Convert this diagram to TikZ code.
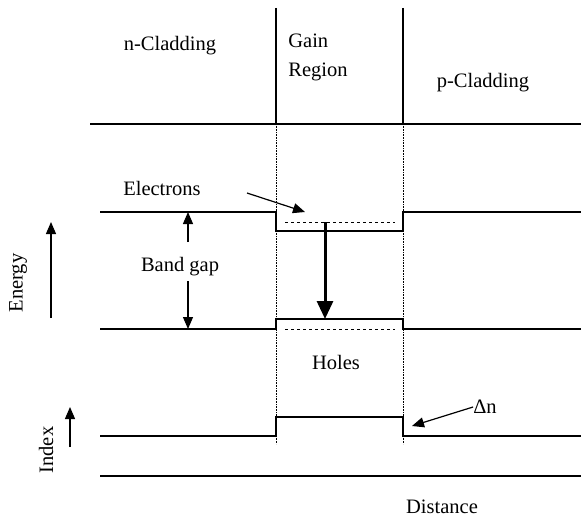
\documentclass[tikz,border=0pt]{standalone}
\usepackage{fontspec}
\setmainfont{Liberation Serif}
\usetikzlibrary{arrows.meta}
\begin{document}
\begin{tikzpicture}[x=1pt,y=-1pt,
  lbl/.style={font=\fontsize{20.5}{24}\selectfont, inner sep=0pt},
  band/.style={line width=1.3pt},
  divider/.style={line width=1.2pt},
  dotline/.style={densely dotted, line width=0.6pt},
  level/.style={dashed, line width=1pt},
  thinarrow/.style={line width=1.2pt, -{Triangle[length=12pt,width=10pt]}},
  bigarrow/.style={line width=3pt, -{Triangle[length=18pt,width=16pt]}}]
\useasboundingbox (0,0) rectangle (581,519);
% top section
\draw[divider] (276,8) -- (276,124);
\draw[divider] (403,8) -- (403,124);
\draw[band] (90,124) -- (581,124);
\node[lbl] (ncl) at (170,46) {n-Cladding};
\node[lbl, align=left] (gain) at (318,57) {Gain\\[5pt]Region};
\node[lbl] (pcl) at (483,83) {p-Cladding};
% dotted interfaces
\draw[dotline] (276,124) -- (276,444);
\draw[dotline] (403,124) -- (403,444);
% conduction band
\draw[band] (100,212) -- (276,212) -- (276,231) -- (403,231) -- (403,212) -- (581,212);
\coordinate (eL) at (285,222);
\coordinate (eR) at (395,222);
\draw[level] (eL) -- (eR);
% valence band
\draw[band] (100,329) -- (276,329) -- (276,319) -- (403,319) -- (403,329) -- (581,329);
\coordinate (hL) at (285,329);
\coordinate (hR) at (395,329);
\draw[level] (hL) -- (hR);
% transition
\coordinate (tA) at (325,222);
\coordinate (tB) at (325,319);
\draw[bigarrow] (tA) -- (tB);
% band gap
\node[lbl] (bg) at (180,267) {Band gap};
\coordinate (bgT) at (188,212);
\coordinate (bgB) at (188,329);
\draw[thinarrow] (188,242) -- (bgT);
\draw[thinarrow] (188,281) -- (bgB);
% electrons
\node[lbl] (el) at (162,188) {Electrons};
\coordinate (elT) at (305,212);
\draw[thinarrow] (247,193) -- (elT);
% holes
\node[lbl] (holes) at (336,362) {Holes};
% index
\draw[band] (100,436) -- (276,436) -- (276,417) -- (403,417) -- (403,436) -- (581,436);
\node[lbl] (dn) at (485,407) {Δn};
\coordinate (dnT) at (412,426);
\draw[thinarrow] (dn.west) -- (dnT);
% distance axis
\draw[band] (100,476) -- (581,476);
\node[lbl] (dist) at (442,507) {Distance};
% left axes
\node[lbl, rotate=90] (energy) at (18,283) {Energy};
\coordinate (enB) at (51,318);
\coordinate (enT) at (51,222);
\draw[thinarrow] (enB) -- (enT);
\node[lbl, rotate=90] (index) at (46,450) {Index};
\coordinate (inB) at (70,447);
\coordinate (inT) at (70,407);
\draw[thinarrow] (inB) -- (inT);
\end{tikzpicture}
\end{document}
